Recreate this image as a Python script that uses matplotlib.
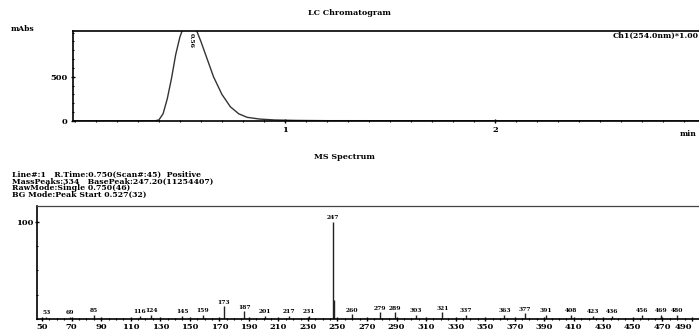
import numpy as np
import matplotlib
matplotlib.use("Agg")
import matplotlib.pyplot as plt
from matplotlib.ticker import MultipleLocator

plt.rcParams['font.family'] = ['DejaVu Serif']
plt.rcParams['font.weight'] = 'bold'

# LC trace (time in min, absorbance in mAbs)
lc_time = [0.0, 0.30, 0.38, 0.40, 0.42, 0.44, 0.46, 0.48, 0.50, 0.52, 0.545,
           0.57, 0.60, 0.63, 0.66, 0.70, 0.74, 0.78, 0.82, 0.88, 0.95, 1.05,
           1.20, 2.97]
lc_abs = [0, 0, 0, 10, 80, 250, 480, 750, 950, 1080, 1120,
          1080, 900, 700, 500, 300, 160, 80, 40, 20, 10, 5,
          2, 0]

# MS spectrum (m/z, relative intensity %)
ms_mz = [53, 69, 85, 116, 124, 145, 159, 173, 187, 201, 217, 231, 247, 248,
         260, 279, 289, 303, 321, 337, 363, 377, 391, 408, 423, 436, 456,
         469, 480]
ms_int = [2, 2, 4, 3, 4, 3, 4, 13, 8, 3, 3, 3, 100, 20,
          5, 7, 7, 4, 7, 4, 4, 6, 4, 4, 3, 3, 4,
          4, 4]
ms_labelled = [m for m in ms_mz if m != 248]

info_lines = [
    "Line#:1   R.Time:0.750(Scan#:45)  Positive",
    "MassPeaks:334   BasePeak:247.20(11254407)",
    "RawMode:Single 0.750(46)",
    "BG Mode:Peak Start 0.527(32)",
]

fig = plt.figure(figsize=(6.99, 3.32), dpi=100)

# ---- LC chromatogram ----
ax1 = fig.add_axes([0.104, 0.636, 0.896, 0.271])
ax1.plot(lc_time, lc_abs, color='#333333', lw=1.0)
ax1.set_xlim(-0.01, 2.97)
ax1.set_ylim(0, 1020)
ax1.spines['right'].set_visible(False)
for s in ['top', 'left', 'bottom']:
    ax1.spines[s].set_linewidth(1.2)
ax1.xaxis.set_minor_locator(MultipleLocator(0.1))
ax1.yaxis.set_minor_locator(MultipleLocator(100))
ax1.set_xticks([1, 2])
ax1.set_yticks([0, 500])
ax1.tick_params(axis='both', which='major', labelsize=6, length=3, width=1,
                direction='inout', pad=2)
ax1.tick_params(axis='both', which='minor', length=2, width=0.8,
                direction='inout')
ax1.text(0.555, 1000, "0.56", rotation=-90, fontsize=4.5, ha='center', va='top')
ax1.text(1.0, 0.985, "Ch1(254.0nm)*1.00", transform=ax1.transAxes,
         fontsize=5.6, ha='right', va='top')

fig.text(0.50, 0.960, "LC Chromatogram", fontsize=5.8, ha='center', va='center')
fig.text(0.016, 0.912, "mAbs", fontsize=5.5, ha='left', va='center')
fig.text(0.997, 0.596, "min", fontsize=5.5, ha='right', va='center')

# ---- MS spectrum ----
ax2 = fig.add_axes([0.053, 0.039, 0.947, 0.341])
ax2.vlines(ms_mz, 0, ms_int, color='#222222', lw=1.0)
for m, v in zip(ms_mz, ms_int):
    if m in ms_labelled:
        ax2.annotate(str(m), (m, v), xytext=(0, 1.2), textcoords='offset points',
                     fontsize=4.3, ha='center', va='bottom')
ax2.set_xlim(46.6, 494.8)
ax2.set_ylim(0, 116.5)
ax2.spines['right'].set_visible(False)
ax2.spines['top'].set_linewidth(0.9)
ax2.spines['top'].set_color('#444444')
for s in ['left', 'bottom']:
    ax2.spines[s].set_linewidth(1.2)
ax2.set_xticks(np.arange(50, 491, 20))
ax2.xaxis.set_minor_locator(MultipleLocator(5))
ax2.set_yticks([100])
ax2.yaxis.set_minor_locator(MultipleLocator(25))
ax2.tick_params(axis='both', which='major', labelsize=6, length=3, width=1,
                direction='inout', pad=1)
ax2.tick_params(axis='both', which='minor', length=2, width=0.8,
                direction='inout')
# last tick label sits on the right edge, keep it inside the figure
ax2.get_xticklabels()[-1].set_horizontalalignment('right')

fig.text(0.493, 0.527, "MS Spectrum", fontsize=5.8, ha='center', va='center')
for i, line in enumerate(info_lines):
    fig.text(0.017, 0.473 - i * 0.020, line, fontsize=5.6, ha='left',
             va='center')

fig.savefig("out.png", dpi=100)
